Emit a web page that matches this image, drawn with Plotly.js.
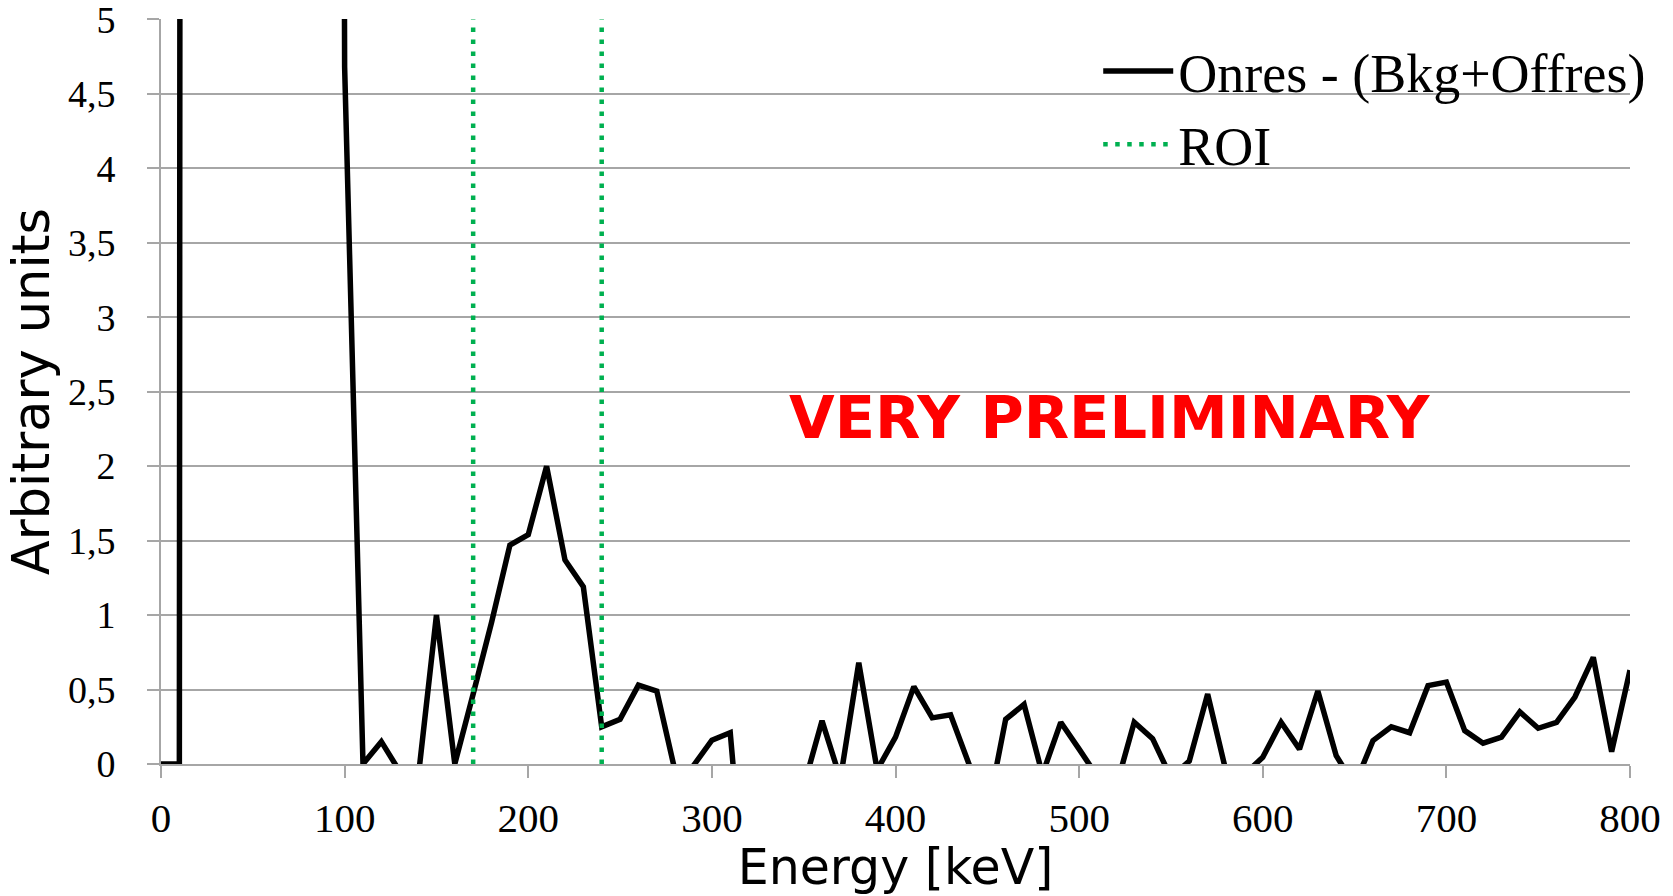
<!DOCTYPE html>
<html>
<head>
<meta charset="utf-8">
<script src="https://cdn.plot.ly/plotly-3.0.1.min.js"></script>
<style>html,body{margin:0;padding:0;background:#fff;}#chart{width:1673px;height:896px;}</style>
</head>
<body>
<div id="chart"></div>
<script>
// Energy bins (keV)
const energy = [0,10,20,30,40,50,60,70,80,90,100,110,120,130,140,150,160,170,180,190,200,210,220,230,240,250,260,270,280,290,300,310,320,330,340,350,360,370,380,390,400,410,420,430,440,450,460,470,480,490,500,510,520,530,540,550,560,570,580,590,600,610,620,630,640,650,660,670,680,690,700,710,720,730,740,750,760,770,780,790,800];
// Onres - (Bkg+Offres), arbitrary units (20-90 keV are far off scale)
const signal = [0,0,180,420,610,540,390,260,130,45,4.68,0,0.15,-0.05,-0.1,1.0,0,0.47,0.95,1.47,1.54,2.0,1.37,1.19,0.25,0.30,0.53,0.49,-0.05,-0.01,0.16,0.21,-1.2,-0.6,-0.4,-0.15,0.29,-0.1,0.68,-0.04,0.18,0.52,0.31,0.33,-0.02,-0.33,0.30,0.40,-0.07,0.28,0.10,-0.085,-0.16,0.28,0.17,-0.09,0.02,0.47,-0.05,-0.07,0.045,0.28,0.10,0.49,0.056,-0.144,0.157,0.25,0.21,0.526,0.55,0.224,0.14,0.18,0.35,0.24,0.28,0.45,0.716,0.083,0.63];
// ROI edges (keV) and vertical extent
const roiEdges = [170, 240];
const roiSpan = [0, 5];
const xTicks = [0,100,200,300,400,500,600,700,800];
const yTicks = [0,0.5,1,1.5,2,2.5,3,3.5,4,4.5,5];

const roiX = [], roiY = [];
roiEdges.forEach((e, i) => {
  if (i > 0) { roiX.push(null); roiY.push(null); }
  roiX.push(e, e); roiY.push(roiSpan[0], roiSpan[1]);
});

const serif = '"Times New Roman", "Liberation Serif", serif';
const comic = '"Comic Sans MS", "DejaVu Sans", sans-serif';

const traces = [
  {x: energy, y: signal, type: 'scatter', mode: 'lines', name: 'Onres - (Bkg+Offres)',
   line: {color: '#000000', width: 5.5}},
  {x: roiX, y: roiY, type: 'scatter', mode: 'lines', name: 'ROI',
   line: {color: '#00B050', width: 4.5, dash: '4.5px,7.5px'}}
];

const layout = {
  width: 1673, height: 896,
  margin: {l: 161, r: 43, t: 19, b: 132},
  paper_bgcolor: '#ffffff', plot_bgcolor: '#ffffff',
  separators: ', ',
  showlegend: true,
  legend: {x: 0.638, xanchor: 'left', y: 0.986, yanchor: 'top',
           bgcolor: 'rgba(0,0,0,0)', font: {family: serif, size: 54, color: '#000'},
           itemwidth: 70, tracegroupgap: 0},
  xaxis: {range: [0, 800], tickvals: xTicks, ticktext: xTicks.map(String),
          showgrid: false, zeroline: false, showline: true, linecolor: '#A6A6A6', linewidth: 2,
          ticks: 'outside', ticklen: 12, tickwidth: 2, tickcolor: '#A6A6A6',
          ticklabelstandoff: 5,
          tickfont: {family: serif, size: 41, color: '#000'},
          title: {text: 'Energy [keV]', font: {family: comic, size: 49, color: '#000'}, standoff: 11},
          automargin: false},
  yaxis: {range: [0, 5.003], tickvals: yTicks,
          showgrid: true, gridcolor: '#A6A6A6', gridwidth: 2,
          zeroline: false, showline: true, linecolor: '#A6A6A6', linewidth: 2,
          ticks: 'outside', ticklen: 12, tickwidth: 2, tickcolor: '#A6A6A6',
          ticklabelstandoff: 24, ticklabeloverflow: 'allow',
          tickfont: {family: serif, size: 38, color: '#000'},
          title: {text: 'Arbitrary units', font: {family: comic, size: 51, color: '#000'}, standoff: 2},
          automargin: false},
  annotations: [{x: 516.6, y: 2.33, xref: 'x', yref: 'y', xanchor: 'center', yanchor: 'middle',
                 text: 'VERY PRELIMINARY', showarrow: false,
                 font: {family: comic, size: 59, color: '#FF0000', weight: 'bold'}}]
};

Plotly.newPlot('chart', traces, layout, {displayModeBar: false, staticPlot: true});
</script>
</body>
</html>
